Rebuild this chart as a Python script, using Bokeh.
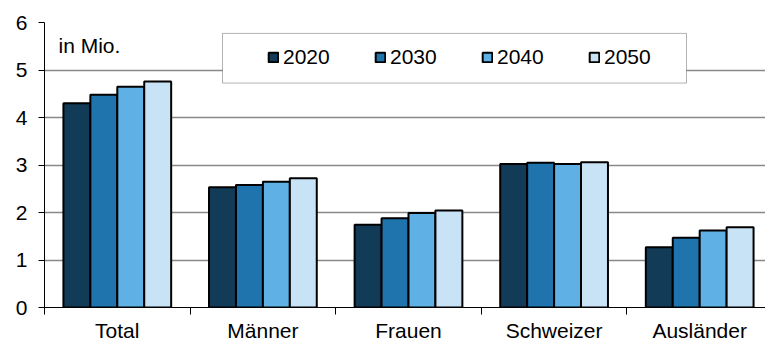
from bokeh.plotting import figure
from bokeh.models import (ColumnDataSource, Range1d, FixedTicker, Legend, LegendItem,
                          BoxAnnotation, Label)
from bokeh.transform import dodge
from bokeh.embed import file_html
from bokeh.resources import INLINE

categories = ["Total", "Männer", "Frauen", "Schweizer", "Ausländer"]
years = ["2020", "2030", "2040", "2050"]
v2020 = [4.30, 2.53, 1.74, 3.02, 1.27]
v2030 = [4.48, 2.58, 1.88, 3.05, 1.47]
v2040 = [4.65, 2.65, 1.99, 3.02, 1.62]
v2050 = [4.76, 2.72, 2.04, 3.06, 1.69]
colors = ["#123b58", "#1f74ad", "#5eb0e5", "#c9e3f6"]
y_ticks = [0, 1, 2, 3, 4, 5, 6]

FONT = "Liberation Sans"
FS = "21px"

xc = [i + 0.5 for i in range(len(categories))]
source = ColumnDataSource(dict(xc=xc, v2020=v2020, v2030=v2030, v2040=v2040, v2050=v2050))

p = figure(width=765, height=344, output_backend="svg", toolbar_location=None,
           x_range=Range1d(0, 4.952), y_range=Range1d(0, 6),
           min_border_left=44, min_border_right=0, min_border_top=22, min_border_bottom=35)
p.outline_line_color = None
p.background_fill_color = "white"
p.border_fill_color = "white"

bw = 0.185
offsets = [-1.5 * bw, -0.5 * bw, 0.5 * bw, 1.5 * bw]
renderers = []
for yr, col, off in zip(years, colors, offsets):
    r = p.vbar(x=dodge("xc", off), top="v" + yr, width=bw, bottom=0, source=source,
               fill_color=col, line_color="black", line_width=2)
    renderers.append(r)

# x axis
p.xaxis.ticker = FixedTicker(ticks=xc, minor_ticks=list(range(len(categories) + 1)))
p.xaxis.major_label_overrides = {x: c for x, c in zip(xc, categories)}
p.xaxis.major_tick_out = 0
p.xaxis.major_tick_in = 0
p.xaxis.minor_tick_out = 7
p.xaxis.minor_tick_in = 0
p.xaxis.minor_tick_line_color = "black"
p.xaxis.axis_line_color = "black"
p.xaxis.major_label_standoff = 4
p.xaxis.major_label_text_line_height = 0.8
p.xaxis.major_label_text_font = FONT
p.xaxis.major_label_text_font_size = FS
p.xaxis.major_label_text_color = "black"

# y axis
p.yaxis.ticker = FixedTicker(ticks=y_ticks)
p.yaxis.major_tick_out = 6
p.yaxis.major_tick_in = 0
p.yaxis.major_tick_line_color = "black"
p.yaxis.minor_tick_line_color = None
p.yaxis.axis_line_color = "black"
p.yaxis.major_label_standoff = 11
p.yaxis.major_label_text_font = FONT
p.yaxis.major_label_text_font_size = FS
p.yaxis.major_label_text_color = "black"

p.xgrid.grid_line_color = None
p.ygrid.ticker = FixedTicker(ticks=y_ticks[1:])
p.ygrid.grid_line_color = "#898989"
p.ygrid.grid_line_width = 1.5

# legend frame
box = BoxAnnotation(left=(222 - 44) / 145.6, right=(686 - 44) / 145.6,
                    top=(309 - 33) / 47.83, bottom=(309 - 83) / 47.83,
                    fill_color="white", fill_alpha=1.0, line_color="black", line_width=1)
p.add_layout(box)

legend = Legend(items=[LegendItem(label=yr, renderers=[r]) for yr, r in zip(years, renderers)],
                orientation="horizontal", location=(223, 238),
                border_line_color=None, background_fill_alpha=0,
                padding=0, margin=0, spacing=44,
                glyph_width=12, glyph_height=12, label_standoff=4, label_width=47,
                label_text_font=FONT, label_text_font_size=FS, label_text_color="black")
p.add_layout(legend, "center")

p.add_layout(Label(x=(58 - 44) / 145.6, y=(309 - 45) / 47.83, text="in Mio.",
                   text_font=FONT, text_font_size=FS, text_baseline="middle",
                   text_color="black"))

open("out.html", "w").write(file_html(p, INLINE))
